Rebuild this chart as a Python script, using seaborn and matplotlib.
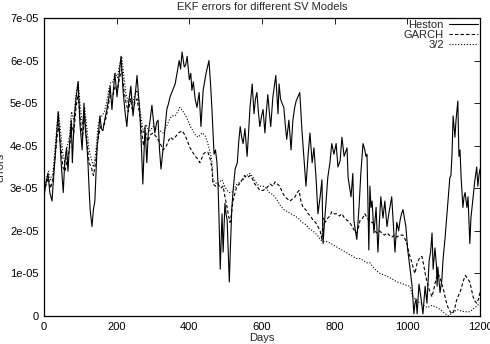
import numpy as np
import pandas as pd
import seaborn as sns
import matplotlib
matplotlib.use("Agg")
import matplotlib.pyplot as plt
from matplotlib.ticker import FuncFormatter

# values, errors in units of 1e-05
heston_days = [0, 5, 11, 16, 22, 26, 30, 35, 39, 44, 48, 53, 57, 62, 66, 70, 75, 78, 83, 88,
               94, 99, 105, 110, 114, 118, 121, 124, 127, 132, 136, 140, 143, 146, 150, 154, 158,
               162, 167, 173, 178, 182, 187, 191, 195, 201, 206, 212, 218, 223, 228, 233, 239,
               245, 250, 256, 260, 264, 268, 272, 275, 278, 283, 287, 292, 297, 301, 305, 310,
               314, 318, 322, 328, 333, 338, 343, 347, 354, 361, 367, 372, 376, 380, 386, 390,
               394, 400, 404, 407, 411, 416, 421, 427, 432, 438, 442, 446, 450, 454, 458, 462,
               468, 472, 476, 479, 482, 485, 488, 490, 493, 496, 498, 501, 504, 507, 510, 513,
               517, 521, 526, 532, 536, 540, 544, 548, 553, 559, 563, 567, 573, 578, 582, 586,
               590, 594, 599, 603, 608, 612, 616, 620, 624, 630, 634, 638, 644, 647, 651, 655,
               660, 664, 668, 674, 680, 685, 690, 694, 699, 704, 710, 716, 721, 727, 732, 738,
               743, 749, 754, 760, 765, 768, 772, 776, 781, 787, 792, 798, 804, 809, 815, 820,
               826, 834, 837, 845, 850, 853, 857, 861, 867, 872, 878, 883, 886, 889, 894, 897,
               900, 903, 908, 914, 919, 923, 927, 933, 938, 944, 949, 953, 957, 963, 966, 971,
               976, 980, 984, 988, 992, 996, 1001, 1007, 1013, 1018, 1021, 1024, 1027, 1032,
               1038, 1043, 1049, 1054, 1060, 1064, 1068, 1071, 1076, 1080, 1082, 1084, 1090,
               1095, 1098, 1104, 1109, 1112, 1117, 1120, 1123, 1126, 1129, 1131, 1134, 1139,
               1142, 1145, 1148, 1153, 1156, 1159, 1164, 1167, 1172, 1175, 1178, 1181, 1186,
               1191, 1194, 1197, 1200]
heston_err = [2.8, 3.1, 3.35, 2.9, 2.7, 3.2, 3.65, 4.3, 4.8, 4.1, 3.5, 2.9, 3.6, 3.95, 3.4, 4.0,
              4.6, 3.6, 4.6, 5.1, 5.5, 4.5, 3.9, 5.0, 4.35, 4.0, 3.6, 3.0, 2.5, 2.1, 2.5, 2.7, 3.3,
              3.95, 4.3, 4.7, 4.4, 4.35, 4.6, 4.85, 5.1, 5.4, 4.85, 5.3, 5.7, 5.15, 5.6, 6.1, 5.25,
              4.8, 4.45, 5.0, 5.4, 4.7, 5.1, 5.65, 5.2, 4.75, 4.0, 3.1, 3.8, 4.45, 3.6, 4.3, 4.6,
              4.95, 4.6, 4.3, 4.55, 4.6, 3.9, 3.45, 3.95, 4.4, 4.85, 5.0, 5.15, 5.3, 5.45, 5.75,
              6.0, 5.8, 6.2, 5.85, 5.9, 6.1, 5.55, 5.7, 5.3, 5.5, 5.1, 4.9, 5.25, 4.45, 5.3, 5.5,
              5.7, 5.85, 6.0, 5.5, 4.9, 3.8, 3.9, 3.6, 3.1, 2.2, 1.1, 1.9, 2.4, 1.5, 2.2, 2.65,
              2.4, 2.25, 1.5, 0.8, 1.6, 2.55, 3.0, 3.45, 3.6, 4.1, 4.45, 4.2, 4.05, 4.4, 3.75, 4.3,
              4.9, 5.45, 4.75, 5.1, 5.25, 4.8, 4.45, 4.7, 4.85, 4.3, 4.8, 5.2, 4.8, 4.45, 5.15,
              5.4, 5.65, 4.75, 5.45, 5.1, 5.0, 4.9, 4.5, 4.15, 4.6, 3.9, 4.6, 4.9, 5.05, 5.15,
              5.25, 4.35, 3.65, 3.05, 3.8, 4.3, 3.6, 3.95, 3.2, 2.4, 2.8, 3.2, 1.7, 2.2, 2.65,
              3.25, 3.6, 4.05, 3.8, 4.05, 3.5, 3.65, 4.2, 3.75, 3.95, 3.25, 2.8, 3.35, 2.25, 2.0,
              1.8, 2.55, 3.35, 4.05, 3.9, 3.75, 3.8, 1.55, 3.05, 2.55, 2.7, 1.95, 2.55, 1.5, 2.2,
              2.8, 2.3, 2.7, 2.1, 2.4, 2.6, 2.8, 1.95, 1.5, 2.2, 2.0, 2.25, 2.4, 2.5, 2.3, 2.1,
              1.55, 1.15, 0.7, 0.05, 0.3, 0.4, 0.05, 0.75, 0.4, 0.05, 0.7, 0.3, 1.3, 1.5, 1.95,
              1.1, 1.6, 1.2, 0.7, 1.15, 0.55, 0.85, 1.3, 1.85, 2.4, 2.7, 3.25, 3.3, 3.8, 4.7, 4.4,
              4.2, 4.6, 5.05, 3.75, 3.9, 3.25, 2.55, 2.8, 2.9, 2.55, 2.8, 1.7, 2.3, 2.55, 2.8, 3.2,
              3.5, 3.05, 3.3, 3.45]

garch_days = [0, 6, 12, 18, 24, 30, 36, 40, 46, 52, 58, 64, 70, 76, 82, 88, 94, 100, 106, 112,
              118, 124, 130, 136, 142, 148, 154, 160, 166, 172, 178, 184, 190, 196, 202, 208, 214,
              220, 226, 232, 238, 244, 250, 256, 262, 268, 274, 280, 286, 292, 300, 310, 320, 328,
              337, 347, 355, 361, 370, 380, 388, 395, 402, 409, 416, 422, 429, 434, 438, 445, 451,
              457, 462, 465, 472, 479, 486, 493, 498, 504, 508, 512, 516, 520, 526, 531, 538, 545,
              552, 560, 567, 575, 580, 586, 594, 603, 612, 622, 630, 636, 642, 649, 656, 663, 670,
              677, 684, 691, 697, 702, 707, 713, 720, 727, 734, 740, 747, 754, 760, 765, 768, 774,
              781, 787, 792, 799, 806, 813, 820, 827, 834, 841, 848, 855, 861, 866, 870, 877, 883,
              890, 897, 905, 910, 916, 923, 930, 937, 944, 950, 957, 964, 971, 978, 988, 994, 999,
              1004, 1009, 1013, 1017, 1021, 1027, 1033, 1040, 1045, 1049, 1053, 1057, 1063, 1068,
              1072, 1076, 1080, 1084, 1090, 1095, 1100, 1104, 1108, 1112, 1118, 1123, 1127, 1131,
              1135, 1139, 1145, 1150, 1155, 1160, 1164, 1168, 1172, 1177, 1181, 1186, 1191, 1196,
              1200]
garch_err = [2.9, 3.1, 3.25, 3.0, 3.2, 3.7, 4.2, 4.5, 4.0, 3.5, 3.4, 3.7, 3.9, 4.5, 4.3, 4.9,
             5.2, 4.6, 4.2, 4.7, 4.1, 3.6, 3.5, 3.3, 3.6, 4.1, 4.4, 4.5, 4.5, 4.7, 5.0, 5.2, 5.2,
             5.4, 5.3, 5.6, 5.8, 5.3, 5.0, 4.8, 5.1, 4.8, 5.0, 5.1, 4.8, 4.4, 4.0, 4.3, 4.1, 4.25,
             4.3, 4.2, 4.05, 3.9, 4.0, 4.2, 4.15, 4.2, 4.3, 4.35, 4.25, 4.1, 3.95, 3.85, 3.75, 3.7,
             3.6, 3.7, 3.8, 3.85, 3.85, 3.7, 3.5, 3.1, 3.05, 3.1, 3.0, 3.05, 2.8, 2.55, 2.35, 2.2,
             2.4, 2.7, 2.9, 3.05, 3.1, 3.2, 3.3, 3.25, 3.3, 3.2, 3.1, 3.05, 2.95, 2.95, 3.0, 3.1,
             3.05, 3.15, 3.1, 3.05, 2.9, 2.8, 2.75, 2.7, 2.75, 2.8, 2.9, 2.95, 2.7, 2.55, 2.5, 2.4,
             2.35, 2.25, 2.2, 2.1, 2.0, 1.8, 2.3, 2.2, 2.3, 2.35, 2.45, 2.4, 2.4, 2.35, 2.4, 2.3,
             2.25, 2.2, 2.1, 2.0, 1.95, 2.1, 2.25, 2.3, 2.4, 2.3, 2.2, 2.2, 2.0, 1.95, 2.0, 1.95,
             1.9, 1.95, 1.9, 1.85, 1.9, 1.85, 1.9, 1.9, 1.8, 1.7, 1.5, 1.35, 1.25, 1.1, 1.0, 1.25,
             1.35, 1.4, 1.2, 1.0, 0.85, 0.7, 0.55, 0.45, 0.6, 0.75, 0.9, 1.0, 0.9, 0.75, 0.6, 0.45,
             0.3, 0.2, 0.1, 0.05, 0.1, 0.2, 0.35, 0.45, 0.55, 0.7, 0.85, 0.95, 0.9, 0.85, 0.8, 0.6,
             0.45, 0.35, 0.3, 0.4, 0.55]

three_half_days = [0, 6, 12, 18, 24, 30, 36, 40, 46, 52, 58, 64, 70, 76, 82, 88, 94, 100, 106,
                   112, 118, 124, 130, 136, 142, 148, 154, 160, 166, 172, 178, 184, 190, 196, 202,
                   208, 214, 220, 226, 232, 238, 244, 250, 256, 262, 268, 274, 280, 286, 292, 300,
                   310, 320, 328, 337, 347, 354, 361, 368, 374, 383, 390, 396, 403, 410, 417, 424,
                   430, 435, 443, 451, 457, 462, 465, 470, 476, 483, 490, 497, 504, 510, 517, 524,
                   531, 540, 548, 557, 567, 576, 586, 594, 603, 612, 620, 630, 640, 650, 660, 670,
                   680, 690, 700, 710, 720, 730, 740, 752, 765, 778, 790, 800, 810, 820, 830, 840,
                   850, 860, 870, 880, 889, 897, 910, 925, 940, 952, 962, 971, 980, 988, 998, 1007,
                   1012, 1016, 1025, 1035, 1045, 1054, 1061, 1068, 1075, 1082, 1090, 1098, 1105,
                   1112, 1120, 1128, 1137, 1148, 1159, 1166, 1172, 1180, 1186, 1193, 1200]
three_half_err = [3.0, 3.2, 3.4, 3.2, 3.3, 3.9, 4.5, 4.8, 4.3, 3.8, 3.6, 4.0, 4.2, 4.8, 4.6, 5.2,
                  5.5, 4.9, 4.5, 4.9, 4.4, 3.9, 3.7, 3.5, 3.8, 4.4, 4.7, 4.7, 4.8, 5.0, 5.3, 5.5,
                  5.5, 5.7, 5.6, 5.9, 6.1, 5.6, 5.2, 5.0, 5.3, 5.0, 5.2, 5.3, 5.0, 4.6, 4.3, 4.5,
                  4.4, 4.35, 4.45, 4.4, 4.35, 4.3, 4.45, 4.65, 4.7, 4.7, 4.8, 4.9, 4.8, 4.7, 4.6,
                  4.45, 4.35, 4.25, 4.2, 4.25, 4.3, 4.25, 4.05, 3.85, 3.65, 3.2, 3.15, 3.1, 3.15,
                  3.2, 3.05, 2.95, 2.9, 2.9, 3.0, 3.1, 3.15, 3.2, 3.3, 3.35, 3.25, 3.1, 3.05, 3.05,
                  3.0, 2.9, 2.85, 2.75, 2.6, 2.5, 2.45, 2.4, 2.35, 2.3, 2.2, 2.15, 2.05, 2.0, 1.9,
                  1.75, 1.75, 1.7, 1.65, 1.6, 1.55, 1.5, 1.45, 1.4, 1.35, 1.35, 1.3, 1.25, 1.25,
                  1.1, 1.0, 0.95, 0.9, 0.85, 0.8, 0.78, 0.75, 0.72, 0.7, 0.55, 0.45, 0.38, 0.3,
                  0.25, 0.2, 0.22, 0.25, 0.22, 0.2, 0.15, 0.1, 0.05, 0.0, 0.05, 0.1, 0.15, 0.12,
                  0.1, 0.1, 0.1, 0.15, 0.2, 0.25, 0.3]

models = ["Heston", "GARCH", "3/2"]

frames = []
for name, d, e in [("Heston", heston_days, heston_err),
                   ("GARCH", garch_days, garch_err),
                   ("3/2", three_half_days, three_half_err)]:
    frames.append(pd.DataFrame({"Days": d, "errors": np.array(e) * 1e-5, "model": name}))
df = pd.concat(frames, ignore_index=True)

sns.set_theme(style="white")
plt.rcParams["font.family"] = ["Liberation Sans", "DejaVu Sans"]

fig = plt.figure(figsize=(4.9, 3.44), dpi=100)
ax = fig.add_axes([0.0898, 0.0814, 0.8898, 0.8663])

sns.lineplot(data=df, x="Days", y="errors", style="model", style_order=models,
             dashes={"Heston": "", "GARCH": (3, 2), "3/2": (1, 1.6)},
             color="black", linewidth=0.8, estimator=None, sort=False, ax=ax)

ax.set_xlim(0, 1200)
ax.set_ylim(0, 7e-5)
ax.set_xticks(range(0, 1201, 200))
ax.set_yticks([i * 1e-5 for i in range(8)])
ax.yaxis.set_major_formatter(FuncFormatter(lambda v, p: "0" if abs(v) < 1e-12 else f"{v:.0e}"))
ax.tick_params(direction="in", length=4, width=0.6, top=True, right=True,
               labelsize=8, colors="black", pad=4)
ax.tick_params(axis="x", pad=4)
for s in ax.spines.values():
    s.set_color("black")
    s.set_linewidth(0.9)

ax.set_title("EKF errors for different SV Models", fontsize=8, pad=6)
ax.set_xlabel("Days", fontsize=8, labelpad=1)
ax.set_ylabel("errors", fontsize=8)
ax.yaxis.set_label_coords(-0.088, 0.5)

handles, labels = ax.get_legend_handles_labels()
ax.legend(handles, labels, loc="upper right", frameon=False, markerfirst=False,
          fontsize=8, handlelength=2.6, handletextpad=0.5, labelspacing=0.0,
          borderaxespad=0.05, borderpad=0.1)

fig.savefig("out.png", dpi=100)
